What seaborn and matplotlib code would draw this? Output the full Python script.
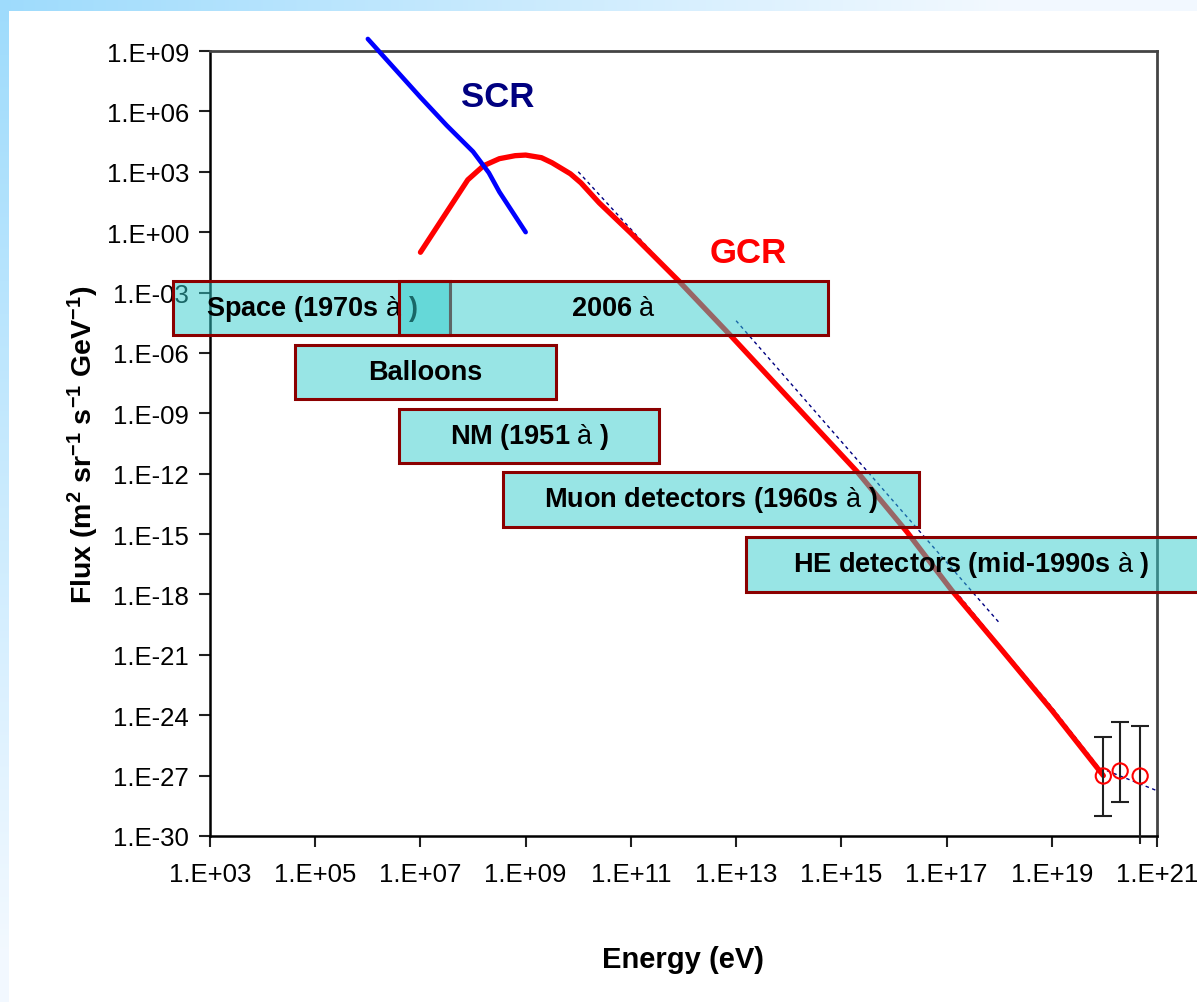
import numpy as np
import pandas as pd
import matplotlib
matplotlib.use("Agg")
import matplotlib.pyplot as plt
import seaborn as sns
from matplotlib.patches import Rectangle
from matplotlib.ticker import FixedLocator, FuncFormatter, NullLocator

# ---- data (log10 of energy in eV, log10 of flux) ----
scr_log_e = [6.0, 6.5, 7.0, 7.5, 8.0, 8.3, 8.5, 9.0]
scr_log_f = [9.6, 8.15, 6.7, 5.3, 4.0, 2.95, 2.0, 0.0]

gcr_log_e = [7.0, 7.5, 7.9, 8.2, 8.5, 8.8, 9.0, 9.3, 9.5, 9.85, 10.05, 10.4,
             11.0, 11.9, 12.9, 14.0, 15.3, 16.25, 17.1, 18.0, 19.0, 19.98]
gcr_log_f = [-1.0, 1.0, 2.6, 3.3, 3.65, 3.8, 3.83, 3.7, 3.45, 2.9, 2.45, 1.45,
             -0.05, -2.4, -5.15, -8.25, -11.9, -14.9, -17.8, -20.6, -23.75, -27.0]

# power-law guide lines
fit_a_log_e = [10.0, 12.0]
fit_a_log_f = [3.0, -2.7]
fit_b_log_e = [13.0, 18.0]
fit_b_log_f = [-4.4, -19.4]
fit_c_log_e = [17.25, 18.0, 19.0, 19.9, 21.0]
fit_c_log_f = [-18.1, -20.5, -23.6, -26.6, -27.75]

# highest-energy measurements with uncertainty ranges
uhe_log_e = [19.98, 20.30, 20.68]
uhe_log_f = [-27.02, -26.77, -27.02]
uhe_log_hi = [-25.08, -24.33, -24.53]
uhe_log_lo = [-29.0, -28.31, -30.4]
uhe_lo_cap = [True, True, False]

# detection techniques: energy range and flux band (log10)
det_labels = ["Space (1970s $\\mathrm{à}$ )", "2006 $\\mathrm{à}$", "Balloons",
              "NM (1951 $\\mathrm{à}$ )", "Muon detectors (1960s $\\mathrm{à}$ )",
              "HE detectors (mid-1990s $\\mathrm{à}$ )"]
det_e_lo = [2.3, 6.6, 4.62, 6.6, 8.57, 13.19]
det_e_hi = [7.56, 14.75, 9.58, 11.54, 16.48, 22.0]
det_f_hi = [-2.43, -2.43, -5.6, -8.78, -11.91, -15.14]
det_f_lo = [-5.11, -5.11, -8.29, -11.47, -14.65, -17.88]

x_tick_exp = list(range(3, 22, 2))
y_tick_exp = list(range(-30, 10, 3))

# ---- style ----
sns.set_style("white")
plt.rcParams["font.family"] = ["Liberation Sans", "DejaVu Sans"]
plt.rcParams["mathtext.fontset"] = "custom"
plt.rcParams["mathtext.rm"] = "Liberation Sans"
plt.rcParams["mathtext.bf"] = "Liberation Sans:bold"
plt.rcParams["mathtext.default"] = "bf"
for key in ["text.color", "axes.labelcolor", "xtick.color", "ytick.color"]:
    plt.rcParams[key] = "black"

W, H = 1197, 1003
fig = plt.figure(figsize=(W / 100, H / 100), dpi=100)
fig.patch.set_facecolor("white")

# soft blue frame along the top and left edges
bg = fig.add_axes([0, 0, 1, 1], zorder=-10)
img = np.ones((H, W, 3))
blue = np.array([0.62, 0.86, 0.99])
faint = np.array([0.95, 0.975, 1.0])
tx = np.clip(np.arange(W) / 1000.0, 0, 1)[:, None]
img[:12, :, :] = (blue * (1 - tx) + faint * tx)[None, :, :]
ty = np.clip(np.arange(H) / 950.0, 0, 1)[:, None]
img[:, :9, :] = (blue * (1 - ty) + faint * ty)[:, None, :]
bg.imshow(img, extent=[0, 1, 0, 1], aspect="auto")
bg.axis("off")

ax = fig.add_axes([210 / W, 1 - 837 / H, 947 / W, 785 / H])
ax.set_xscale("log")
ax.set_yscale("log")
ax.set_xlim(1e3, 1e21)
ax.set_ylim(1e-30, 1e9)


def frame(le, lf):
    return pd.DataFrame({"energy": 10.0 ** np.asarray(le), "flux": 10.0 ** np.asarray(lf)})


guide_style = dict(color="#000080", lw=1.0, linestyle=(0, (2.5, 2.5)))
for le, lf in [(fit_a_log_e, fit_a_log_f), (fit_b_log_e, fit_b_log_f), (fit_c_log_e, fit_c_log_f)]:
    sns.lineplot(data=frame(le, lf), x="energy", y="flux", ax=ax, sort=False,
                 zorder=3, clip_on=False, **guide_style)

sns.lineplot(data=frame(gcr_log_e, gcr_log_f), x="energy", y="flux", ax=ax, sort=False,
             color="#ff0000", lw=3.8, zorder=4, solid_capstyle="round",
             solid_joinstyle="round")
sns.lineplot(data=frame(scr_log_e, scr_log_f), x="energy", y="flux", ax=ax, sort=False,
             color="#0000ff", lw=3.3, zorder=4, clip_on=False, solid_capstyle="round",
             solid_joinstyle="round")

# error bars
ue = 10.0 ** np.asarray(uhe_log_e)
ax.vlines(ue, 10.0 ** np.asarray(uhe_log_lo), 10.0 ** np.asarray(uhe_log_hi),
          color="#202020", lw=1.5, zorder=4, clip_on=False)
ax.plot(ue, 10.0 ** np.asarray(uhe_log_hi), ls="none", marker="_", ms=13, mew=1.5,
        color="#202020", zorder=4)
lo_mask = np.asarray(uhe_lo_cap)
ax.plot(ue[lo_mask], 10.0 ** np.asarray(uhe_log_lo)[lo_mask], ls="none", marker="_",
        ms=13, mew=1.5, color="#202020", zorder=4)
sns.scatterplot(data=frame(uhe_log_e, uhe_log_f), x="energy", y="flux", ax=ax,
                marker="o", s=120, facecolor="none", edgecolor="#ff0000",
                linewidth=1.5, zorder=5)

# detection technique bands drawn on top of everything
for i, (lab, e0, e1, f1, f0) in enumerate(zip(det_labels, det_e_lo, det_e_hi, det_f_hi, det_f_lo)):
    x0, x1 = 10.0 ** e0, 10.0 ** e1
    y0, y1 = 10.0 ** f0, 10.0 ** f1
    rect = Rectangle((x0, y0), x1 - x0, y1 - y0, facecolor=(0.2, 0.8, 0.8, 0.5),
                     edgecolor="#8b0000", lw=2.2, zorder=10 + 2 * i, clip_on=False)
    ax.add_patch(rect)
    cx = 10.0 ** ((e0 + min(e1, 21.76)) / 2)
    cy = 10.0 ** ((f0 + f1) / 2)
    ax.text(cx, cy, lab, ha="center", va="center", fontsize=19.5, fontweight="bold",
            color="black", zorder=11 + 2 * i, clip_on=False)

ax.text(10 ** 8.46, 10 ** 6.76, "SCR", color="#000080", fontsize=25, fontweight="bold",
        ha="center", va="center", zorder=6)
ax.text(10 ** 13.23, 10 ** -0.99, "GCR", color="#ff0000", fontsize=25, fontweight="bold",
        ha="center", va="center", zorder=6)

# axes and ticks
ax.xaxis.set_major_locator(FixedLocator([10.0 ** e for e in x_tick_exp]))
ax.yaxis.set_major_locator(FixedLocator([10.0 ** e for e in y_tick_exp]))
ax.xaxis.set_minor_locator(NullLocator())
ax.yaxis.set_minor_locator(NullLocator())
fmt = FuncFormatter(lambda v, pos: f"1.E{int(round(np.log10(v))):+03d}")
ax.xaxis.set_major_formatter(fmt)
ax.yaxis.set_major_formatter(fmt)
ax.tick_params(axis="both", which="major", direction="out", length=8, width=1.5,
               labelsize=18.5, color="#202020", labelcolor="black", left=True, bottom=True)
ax.tick_params(axis="x", pad=11)
ax.tick_params(axis="y", pad=7)

for side in ["left", "bottom"]:
    ax.spines[side].set_color("black")
    ax.spines[side].set_linewidth(1.8)
for side in ["top", "right"]:
    ax.spines[side].set_color("#444444")
    ax.spines[side].set_linewidth(2.0)
    ax.spines[side].set_visible(True)

ax.set_xlabel("Energy (eV)", fontsize=21, fontweight="bold", color="black")
ax.set_ylabel("Flux (m$^{2}$ sr$^{-1}$ s$^{-1}$ GeV$^{-1}$)", fontsize=20.5,
              fontweight="bold", color="black")
ax.xaxis.set_label_coords(0.5, (837 - 946) / 785)
ax.yaxis.set_label_coords((101 - 210) / 947, 0.5)
ax.grid(False)

fig.savefig("out.png", dpi=100)
